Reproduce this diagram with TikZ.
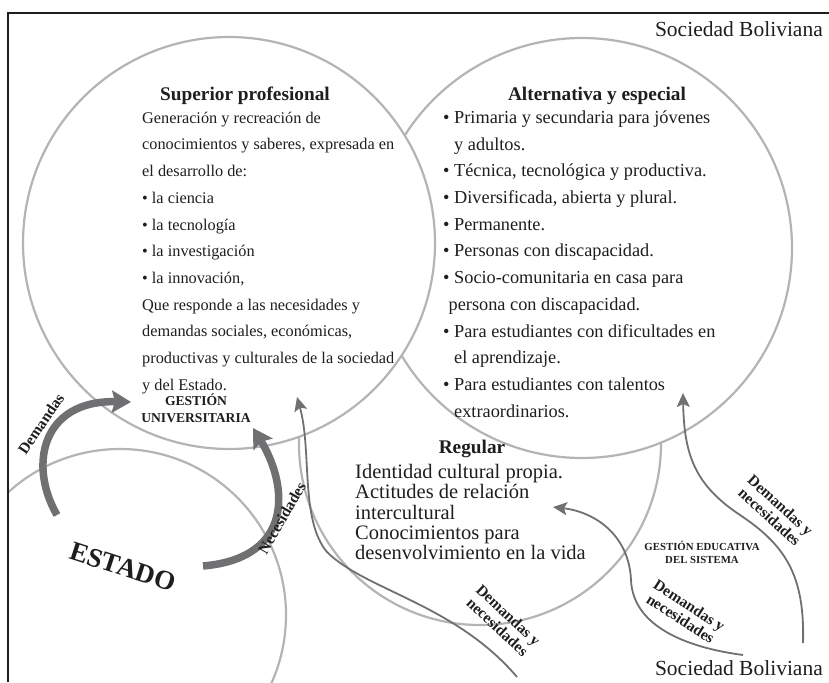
\documentclass[tikz,border=0pt]{standalone}
\usepackage{fontspec}
\setmainfont{Liberation Serif}
\usetikzlibrary{arrows.meta}
\definecolor{ringc}{HTML}{B4B4B7}
\definecolor{arrc}{HTML}{707072}
\definecolor{inkc}{HTML}{1E1E1E}
\tikzset{
  ring/.style={draw=ringc, line width=2.2pt},
  ringw/.style={ring, fill=white},
  bodytxt/.style={font=\fontsize{16.3}{26.7}\selectfont, align=left, inner sep=0pt, anchor=north west, text=inkc},
  alttxt/.style={font=\fontsize{18.3}{26.7}\selectfont, align=left, inner sep=0pt, anchor=north west, text=inkc},
  regtxt/.style={font=\fontsize{20.5}{20.3}\selectfont, align=left, inner sep=0pt, anchor=north west, text=inkc},
  ttl/.style={font=\bfseries\fontsize{19.3}{22}\selectfont, inner sep=0pt, anchor=base, text=inkc},
  lbl/.style={font=\bfseries\fontsize{15.5}{16}\selectfont, align=center, inner sep=0pt, text=inkc},
  capsbig/.style={font=\bfseries\fontsize{13.6}{17}\selectfont, align=center, inner sep=0pt, text=inkc},
  capssmall/.style={font=\bfseries\fontsize{10.8}{13}\selectfont, align=center, inner sep=0pt, text=inkc},
  soc/.style={font=\fontsize{21.5}{24}\selectfont, inner sep=0pt, anchor=base east, text=inkc},
  bigarrow/.style={draw=arrc, line width=7.5pt, -{Stealth[length=19pt,width=22pt,inset=3pt]}},
  thinarrow/.style={draw=arrc, line width=1.8pt, -{Stealth[length=14pt,width=13pt,inset=3pt]}},
}
\begin{document}
\begin{tikzpicture}[x=1pt,y=-1pt]
\useasboundingbox (0,0) rectangle (829,682);
% circles
\begin{scope}
\clip (8,13) rectangle (829,682);
\draw[ring] (480,444) circle[radius=181];
\draw[ringw] (582,248) circle[radius=210];
\draw[ringw] (229,243) circle[radius=206];
\draw[ring] (120,615) circle[radius=166];
\end{scope}
% frame
\draw[line width=2.3pt, inkc] (8,682) -- (8,13) -- (829,13);
% societies
\node[soc] (socTop) at (823,37) {Sociedad Boliviana};
\node[soc] (socBot) at (823,675) {Sociedad Boliviana};
% superior
\node[ttl] (supT) at (245,101) {Superior profesional};
\node[bodytxt] (supB) at (142,111.7) {Generación y recreación de\\
conocimientos y saberes, expresada en\\
el desarrollo de:\\
\textbullet\ la ciencia\\
\textbullet\ la tecnología\\
\textbullet\ la investigación\\
\textbullet\ la innovación,\\
Que responde a las necesidades y\\
demandas sociales, económicas,\\
productivas y culturales de la sociedad\\
y del Estado.};
% alternativa
\node[ttl] (altT) at (597,101) {Alternativa y especial};
\node[alttxt] (altB) at (443,110.5) {\textbullet\ Primaria y secundaria para jóvenes\\
\hphantom{\textbullet\ }y adultos.\\
\textbullet\ Técnica, tecnológica y productiva.\\
\textbullet\ Diversificada, abierta y plural.\\
\textbullet\ Permanente.\\
\textbullet\ Personas con discapacidad.\\
\textbullet\ Socio-comunitaria en casa para\\
\hspace*{0.3em}persona con discapacidad.\\
\textbullet\ Para estudiantes con dificultades en\\
\hphantom{\textbullet\ }el aprendizaje.\\
\textbullet\ Para estudiantes con talentos\\
\hphantom{\textbullet\ }extraordinarios.};
% regular
\node[ttl] (regT) at (472,453) {Regular};
\node[regtxt] (regB) at (355,464) {Identidad cultural propia.\\
Actitudes de relación\\
intercultural\\
Conocimientos para\\
desenvolvimiento en la vida};
% management labels
\node[capsbig] (gu) at (196,408) {GESTIÓN\\UNIVERSITARIA};
\node[capssmall] (ge) at (702,552) {GESTIÓN EDUCATIVA\\DEL SISTEMA};
\node[font=\bfseries\fontsize{27}{28}\selectfont, text=inkc, inner sep=0pt, rotate=-18] (estado) at (123,567) {ESTADO};
% thick arrows
\coordinate (dA) at (57,515);
\coordinate (dB) at (131,402);
\draw[bigarrow] (dA) .. controls (28,465) and (42,400) .. (dB);
\coordinate (nA) at (203,566);
\coordinate (nB) at (253,428);
\draw[bigarrow] (nA) .. controls (295,558) and (288,485) .. (nB);
\node[lbl, rotate=56] (lDem) at (41,424) {Demandas};
\node[lbl, rotate=60] (lNec) at (282,518) {Necesidades};
% thin arrows
\coordinate (t1a) at (517,677);
\coordinate (t1m) at (327,552);
\coordinate (t1b) at (297,397);
\draw[thinarrow] (t1a) .. controls (455,604) and (365,590) .. (t1m) .. controls (300,520) and (312,450) .. (t1b);
\coordinate (t2a) at (743,655);
\coordinate (t2m) at (631,580);
\coordinate (t2b) at (553,507);
\draw[thinarrow] (t2a) .. controls (690,648) and (633,628) .. (t2m) .. controls (629,535) and (595,512) .. (t2b);
\coordinate (t3a) at (803,643);
\coordinate (t3m) at (740,515);
\coordinate (t3b) at (683,393);
\draw[thinarrow] (t3a) .. controls (805,575) and (785,545) .. (t3m) .. controls (695,485) and (684,455) .. (t3b);
\node[lbl, rotate=-43] (l1) at (503,621) {Demandas y\\necesidades};
\node[lbl, rotate=-33] (l2) at (685,612) {Demandas y\\necesidades};
\node[lbl, rotate=-42] (l3) at (775,511) {Demandas y\\necesidades};
\end{tikzpicture}
\end{document}
